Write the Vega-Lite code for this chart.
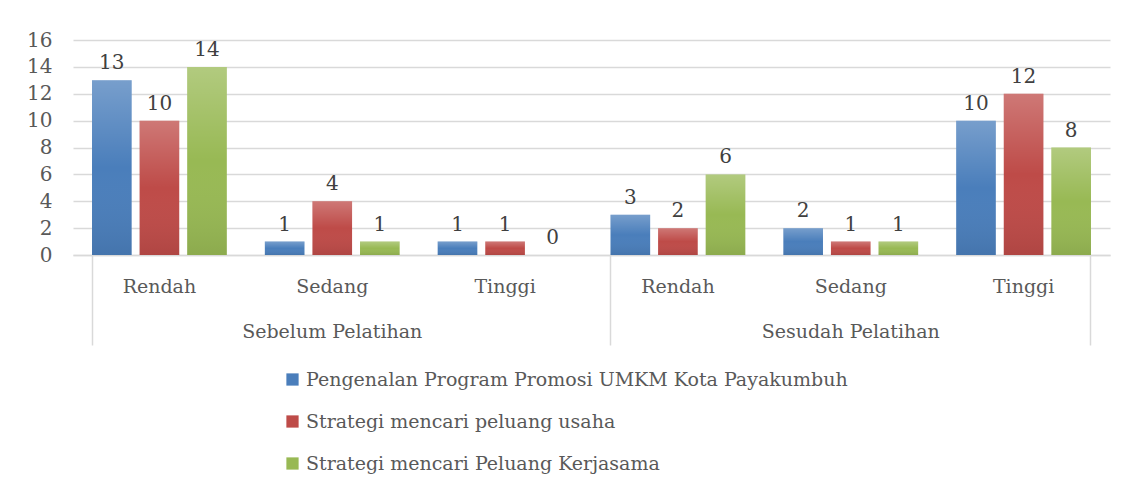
{
  "$schema": "https://vega.github.io/schema/vega-lite/v6.json",
  "width": 1037,
  "height": 215,
  "autosize": "none",
  "padding": {"left": 73, "top": 40, "right": 20, "bottom": 243},
  "background": "white",
  "config": {
    "font": "DejaVu Serif",
    "view": {"stroke": null}
  },
  "data": {
    "values": [
      {"kelompok": "Sebelum  Pelatihan|Rendah", "seri": "Pengenalan Program Promosi UMKM Kota Payakumbuh", "nilai": 13},
      {"kelompok": "Sebelum  Pelatihan|Rendah", "seri": "Strategi mencari peluang usaha", "nilai": 10},
      {"kelompok": "Sebelum  Pelatihan|Rendah", "seri": "Strategi mencari Peluang Kerjasama", "nilai": 14},
      {"kelompok": "Sebelum  Pelatihan|Sedang", "seri": "Pengenalan Program Promosi UMKM Kota Payakumbuh", "nilai": 1},
      {"kelompok": "Sebelum  Pelatihan|Sedang", "seri": "Strategi mencari peluang usaha", "nilai": 4},
      {"kelompok": "Sebelum  Pelatihan|Sedang", "seri": "Strategi mencari Peluang Kerjasama", "nilai": 1},
      {"kelompok": "Sebelum  Pelatihan|Tinggi", "seri": "Pengenalan Program Promosi UMKM Kota Payakumbuh", "nilai": 1},
      {"kelompok": "Sebelum  Pelatihan|Tinggi", "seri": "Strategi mencari peluang usaha", "nilai": 1},
      {"kelompok": "Sebelum  Pelatihan|Tinggi", "seri": "Strategi mencari Peluang Kerjasama", "nilai": 0},
      {"kelompok": "Sesudah Pelatihan|Rendah", "seri": "Pengenalan Program Promosi UMKM Kota Payakumbuh", "nilai": 3},
      {"kelompok": "Sesudah Pelatihan|Rendah", "seri": "Strategi mencari peluang usaha", "nilai": 2},
      {"kelompok": "Sesudah Pelatihan|Rendah", "seri": "Strategi mencari Peluang Kerjasama", "nilai": 6},
      {"kelompok": "Sesudah Pelatihan|Sedang", "seri": "Pengenalan Program Promosi UMKM Kota Payakumbuh", "nilai": 2},
      {"kelompok": "Sesudah Pelatihan|Sedang", "seri": "Strategi mencari peluang usaha", "nilai": 1},
      {"kelompok": "Sesudah Pelatihan|Sedang", "seri": "Strategi mencari Peluang Kerjasama", "nilai": 1},
      {"kelompok": "Sesudah Pelatihan|Tinggi", "seri": "Pengenalan Program Promosi UMKM Kota Payakumbuh", "nilai": 10},
      {"kelompok": "Sesudah Pelatihan|Tinggi", "seri": "Strategi mencari peluang usaha", "nilai": 12},
      {"kelompok": "Sesudah Pelatihan|Tinggi", "seri": "Strategi mencari Peluang Kerjasama", "nilai": 8}
    ]
  },
  "encoding": {
    "x": {
      "field": "kelompok",
      "type": "nominal",
      "sort": null,
      "scale": {"paddingInner": 0.22, "paddingOuter": 0.11}
    },
    "xOffset": {
      "field": "seri",
      "type": "nominal",
      "sort": null,
      "scale": {"paddingInner": 0.167, "paddingOuter": 0}
    },
    "y": {
      "field": "nilai",
      "type": "quantitative",
      "scale": {"domain": [0, 16]},
      "axis": {
        "title": null,
        "values": [0, 2, 4, 6, 8, 10, 12, 14, 16],
        "domain": false,
        "ticks": false,
        "grid": true,
        "gridColor": "#d9d9d9",
        "gridWidth": 1.5,
        "labelPadding": 21,
        "labelFontSize": 20,
        "labelColor": "#595959"
      }
    }
  },
  "layer": [
    {
      "mark": {"type": "bar"},
      "encoding": {
        "x": {
          "field": "kelompok",
          "type": "nominal",
          "sort": null,
          "axis": {
            "title": null,
            "orient": "bottom",
            "bandPosition": 0,
            "labelAngle": 0,
            "labelFontSize": 19,
            "labelColor": "#595959",
            "labelBaseline": "top",
            "labelPadding": -68,
            "labelLineHeight": 45,
            "labelLimit": 400,
            "labelExpr": "split(datum.value, '|')[1] == 'Sedang' ? [split(datum.value, '|')[1], split(datum.value, '|')[0]] : split(datum.value, '|')[1]",
            "labelFlush": false,
            "labelOverlap": false,
            "domainColor": "#d9d9d9",
            "domainWidth": 1.5,
            "grid": false,
            "ticks": true,
            "tickSize": 90,
            "tickWidth": 1.5,
            "tickColor": {"condition": {"test": "indexof(datum.value, 'Rendah') >= 0", "value": "#d9d9d9"}, "value": "transparent"}
          }
        },
        "color": {
          "field": "seri",
          "type": "nominal",
          "sort": null,
          "scale": {
            "domain": ["Pengenalan Program Promosi UMKM Kota Payakumbuh", "Strategi mencari peluang usaha", "Strategi mencari Peluang Kerjasama"],
            "range": ["#4a7ebb", "#be4b48", "#98b954"]
          },
          "legend": {
            "title": null,
            "orient": "none",
            "legendX": 210,
            "legendY": 330,
            "direction": "vertical",
            "symbolType": "square",
            "symbolSize": 150,
            "symbolStrokeWidth": 0,
            "labelFontSize": 19,
            "labelColor": "#595959",
            "labelOffset": 4,
            "rowPadding": 22,
            "labelLimit": 800
          }
        }
      }
    },
    {
      "mark": {
        "type": "bar",
        "color": {
          "gradient": "linear",
          "x1": 0, "y1": 0, "x2": 0, "y2": 1,
          "stops": [
            {"offset": 0, "color": "rgba(255,255,255,0.25)"},
            {"offset": 0.5, "color": "rgba(255,255,255,0)"},
            {"offset": 1, "color": "rgba(0,0,0,0.08)"}
          ]
        }
      },
      "encoding": {
        "x": {
          "field": "kelompok",
          "type": "nominal",
          "sort": null,
          "axis": {
            "title": null,
            "orient": "bottom",
            "bandPosition": 1,
            "labels": false,
            "domain": false,
            "grid": false,
            "ticks": true,
            "tickSize": 90,
            "tickWidth": 1.5,
            "tickColor": {"condition": {"test": "indexof(datum.value, 'Sesudah Pelatihan|Tinggi') >= 0", "value": "#d9d9d9"}, "value": "transparent"}
          }
        }
      }
    },
    {
      "mark": {"type": "text", "baseline": "bottom", "dy": -7, "fontSize": 20, "color": "#404040"},
      "encoding": {
        "x": {"field": "kelompok", "type": "nominal", "sort": null, "axis": null},
        "text": {"field": "nilai", "type": "quantitative"}
      }
    }
  ],
  "resolve": {"axis": {"x": "independent"}}
}
